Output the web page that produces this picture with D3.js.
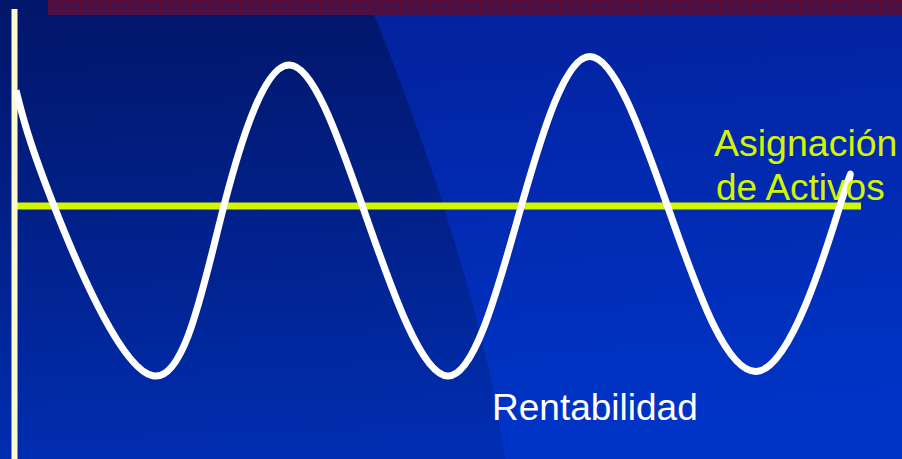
<!DOCTYPE html>
<html>
<head>
<meta charset="utf-8">
<script src="https://cdn.jsdelivr.net/npm/d3@7"></script>
<style>
  html, body { margin: 0; padding: 0; background: #0228a8; overflow: hidden; }
  svg { display: block; }
</style>
</head>
<body>
<svg id="chart" width="902" height="459"></svg>
<script>
// Ciclo de rentabilidad frente a una asignación de activos fija
const tiempo = [0, 0.45, 1.635, 2.46, 3.235, 4.10, 5.11, 5.98, 6.79, 7.71, 8.80, 9.75, 9.83];
const rentabilidad = [68, 0, -100, 0, 83, 0, -100, 0, 88, 0, -97, 0, 10];
const asignacion = 0;
const tiempoDominio = [0, 10];
const valorDominio = [-100, 100];
const etiquetaAsignacion = ["Asignación", "de Activos"];
const etiquetaRentabilidad = "Rentabilidad";

const W = 902, H = 459;
const svg = d3.select("#chart");
const defs = svg.append("defs");

// Fondo azul degradado
const bg = defs.append("linearGradient").attr("id", "bg")
  .attr("x1", 0).attr("y1", 0).attr("x2", 0.15).attr("y2", 1);
bg.append("stop").attr("offset", 0).attr("stop-color", "#03209a");
bg.append("stop").attr("offset", 1).attr("stop-color", "#0034c6");

// Sombra oscura curva de la izquierda
const sh = defs.append("linearGradient").attr("id", "shade")
  .attr("x1", 0).attr("y1", 0).attr("x2", 0).attr("y2", 1);
sh.append("stop").attr("offset", 0).attr("stop-color", "#000a30").attr("stop-opacity", 0.45);
sh.append("stop").attr("offset", 1).attr("stop-color", "#000a30").attr("stop-opacity", 0.14);

// Trama de la franja superior
const pat = defs.append("pattern").attr("id", "tartan")
  .attr("patternUnits", "userSpaceOnUse").attr("width", 10).attr("height", 7.5);
pat.append("rect").attr("width", 10).attr("height", 7.5).attr("fill", "#46114c");
pat.append("path").attr("d", "M0.5,0V7.5M0,0.5H10").attr("stroke", "#650b2c").attr("stroke-width", 0.8);
pat.append("path").attr("d", "M5.5,0V7.5M0,4H10").attr("stroke", "#520f40").attr("stroke-width", 0.4);

svg.append("rect").attr("width", W).attr("height", H).attr("fill", "url(#bg)");
svg.append("path")
  .attr("d", "M0,0H368C430,150 488,330 505,459H0Z")
  .attr("fill", "url(#shade)");
svg.append("rect").attr("x", 48).attr("y", 0).attr("width", W - 48).attr("height", 15)
  .attr("fill", "url(#tartan)");

// Escalas
const x = d3.scaleLinear().domain(tiempoDominio).range([16, 861]);
const y = d3.scaleLinear().domain(valorDominio).range([376, 36]);

// Nivel de asignación de activos
svg.append("line")
  .attr("x1", x(tiempoDominio[0])).attr("x2", x(tiempoDominio[1]))
  .attr("y1", y(asignacion)).attr("y2", y(asignacion))
  .attr("stroke", "#d4f500").attr("stroke-width", 7);

// Eje vertical
svg.append("line")
  .attr("x1", 14.5).attr("x2", 14.5).attr("y1", 9).attr("y2", H)
  .attr("stroke", "#fffbd0").attr("stroke-width", 6);

// Curva de rentabilidad
const datos = tiempo.map((t, i) => ({ t, v: rentabilidad[i] }));
const linea = d3.line().x(d => x(d.t)).y(d => y(d.v)).curve(d3.curveNatural);
svg.append("path").datum(datos)
  .attr("d", linea)
  .attr("fill", "none")
  .attr("stroke", "#ffffff")
  .attr("stroke-width", 7)
  .attr("stroke-linecap", "butt")
  .attr("stroke-linejoin", "round");

// Textos
const fuente = "'Liberation Sans', Arial, sans-serif";
svg.append("text").attr("x", 714).attr("y", 156)
  .attr("font-family", fuente).attr("font-size", 37.5).attr("fill", "#d4f500")
  .text(etiquetaAsignacion[0]);
svg.append("text").attr("x", 716).attr("y", 200)
  .attr("font-family", fuente).attr("font-size", 37).attr("fill", "#d4f500")
  .text(etiquetaAsignacion[1]);
svg.append("text").attr("x", 492).attr("y", 420)
  .attr("font-family", fuente).attr("font-size", 37).attr("fill", "#ffffff")
  .text(etiquetaRentabilidad);
</script>
</body>
</html>
